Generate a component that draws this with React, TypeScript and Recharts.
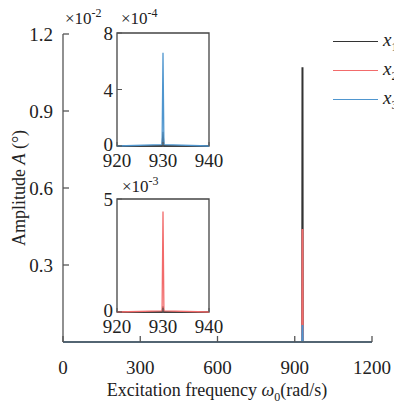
import { LineChart, Line, XAxis, YAxis, ReferenceArea } from 'recharts';

// main sweep, amplitude in 1e-2 deg
const freq = [0, 929, 930, 931, 1200];
const ampX1 = [0, 0, 1.07, 0, 0];
const ampX2 = [0, 0, 0.44, 0, 0];
const ampX3 = [0, 0, 0.066, 0, 0];

// zoomed insets around 930 rad/s
const insetFreq = [920, 929.8, 930, 930.2, 940];
const insetX3 = [0, 0.1, 6.6, 0.1, 0]; // x1e-4
const insetX1a = [0, 0, 1.0, 0, 0]; // x1e-4
const insetX2 = [0, 0.05, 4.45, 0.05, 0]; // x1e-3
const insetX1b = [0, 0, 0.25, 0, 0]; // x1e-3

const xTicks = [0, 300, 600, 900, 1200];
const yTicks = [0.3, 0.6, 0.9, 1.2];
const insetXTicks = [920, 930, 940];
const inset1YTicks = [0, 4, 8];
const inset2YTicks = [0, 5];

const SERIES = [
  { key: 'x1', label: '1', color: '#333333' },
  { key: 'x2', label: '2', color: '#f26b6b' },
  { key: 'x3', label: '3', color: '#4f96cf' },
];

const AXIS = '#555';
const FONT = '"Liberation Serif", "DejaVu Serif", serif';

const mainData = freq.map((f, i) => ({ f, x1: ampX1[i], x2: ampX2[i], x3: ampX3[i] }));
const inset1Data = insetFreq.map((f, i) => ({ f, x1: insetX1a[i], x3: insetX3[i] }));
const inset2Data = insetFreq.map((f, i) => ({ f, x1: insetX1b[i], x2: insetX2[i] }));

const MainXTick = (p: any) => (
  <g>
    <line x1={p.x} y1={p.y} x2={p.x} y2={p.y - 6} stroke={AXIS} strokeWidth={1.3} />
    <text x={p.x} y={p.y + 32} textAnchor="middle" fontSize={19} fontFamily={FONT} fill="#222">
      {p.payload.value}
    </text>
  </g>
);

const MainYTick = (p: any) => (
  <g>
    <line x1={p.x} y1={p.y} x2={p.x + 6} y2={p.y} stroke={AXIS} strokeWidth={1.3} />
    <text x={p.x - 10} y={p.y + 7} textAnchor="end" fontSize={19} fontFamily={FONT} fill="#222">
      {p.payload.value.toFixed(1)}
    </text>
  </g>
);

const InsetXTick = (p: any) => (
  <g>
    <line x1={p.x} y1={p.y} x2={p.x} y2={p.y - 4} stroke={AXIS} strokeWidth={1} />
    <text x={p.x} y={p.y + 21} textAnchor="middle" fontSize={19} fontFamily={FONT} fill="#222">
      {p.payload.value}
    </text>
  </g>
);

const InsetYTick = (p: any) => (
  <g>
    <line x1={p.x} y1={p.y} x2={p.x + 5} y2={p.y} stroke={AXIS} strokeWidth={1} />
    <text x={p.x - 4} y={p.y + (p.payload.value === 0 ? 5 : 7)} textAnchor="end" fontSize={19} fontFamily={FONT} fill="#222">
      {p.payload.value}
    </text>
  </g>
);

const Exp = ({ left, top, pow }: { left: number; top: number; pow: string }) => (
  <div style={{ position: 'absolute', left, top, fontFamily: FONT, fontSize: 17, color: '#222', lineHeight: 1 }}>
    ×10<sup style={{ fontSize: 12, verticalAlign: 'top', position: 'relative', top: -3 }}>{pow}</sup>
  </div>
);

function Inset({ data, yTicks, yMax, top, lines }: any) {
  return (
    <div style={{ position: 'absolute', left: 77, top }}>
      <LineChart width={162} height={161} data={data} margin={{ top: 20, right: 30, left: 10, bottom: 0 }}>
        <XAxis
          dataKey="f"
          type="number"
          domain={[920, 940]}
          ticks={insetXTicks}
          axisLine={false}
          tickLine={false}
          tickSize={0}
          tickMargin={0}
          height={28}
          tick={<InsetXTick />}
          interval={0}
        />
        <YAxis
          type="number"
          domain={[0, yMax]}
          ticks={yTicks}
          axisLine={false}
          tickLine={false}
          tickSize={0}
          tickMargin={0}
          width={30}
          tick={<InsetYTick />}
          interval={0}
        />
        <ReferenceArea x1={920} x2={940} y1={0} y2={yMax} fill="none" stroke="#444" strokeWidth={1.3} />
        {lines.map((s: any) => (
          <Line key={s.key} dataKey={s.key} stroke={s.color} strokeWidth={1.3} dot={false} isAnimationActive={false} />
        ))}
      </LineChart>
    </div>
  );
}

export default function App() {
  return (
    <div style={{ position: 'absolute', left: 0, top: 0, width: 394, height: 406, overflow: 'hidden', background: '#fff' }}>
      <LineChart width={394} height={406} data={mainData} margin={{ top: 34, right: 22, left: 23, bottom: 34 }}>
        <XAxis
          dataKey="f"
          type="number"
          domain={[0, 1200]}
          ticks={xTicks}
          interval={0}
          stroke={AXIS}
          strokeWidth={1.3}
          tickLine={false}
          tickSize={0}
          tickMargin={0}
          height={30}
          tick={<MainXTick />}
        />
        <YAxis
          type="number"
          domain={[0, 1.2]}
          ticks={yTicks}
          interval={0}
          stroke={AXIS}
          strokeWidth={1.3}
          tickLine={false}
          tickSize={0}
          tickMargin={0}
          width={40}
          tick={<MainYTick />}
        />
        {SERIES.map((s) => (
          <Line key={s.key} dataKey={s.key} stroke={s.color} strokeWidth={2} dot={false} isAnimationActive={false} />
        ))}
      </LineChart>

      <Exp left={65} top={10} pow="-2" />

      <Inset data={inset1Data} yTicks={inset1YTicks} yMax={8} top={13} lines={[SERIES[0], SERIES[2]]} />
      <Exp left={121} top={10} pow="-4" />

      <Inset data={inset2Data} yTicks={inset2YTicks} yMax={5} top={179} lines={[SERIES[0], SERIES[1]]} />
      <Exp left={122} top={178} pow="-3" />

      {SERIES.map((s, i) => (
        <div key={s.key} style={{ position: 'absolute', left: 333, top: 29 + i * 29, display: 'flex', alignItems: 'center', whiteSpace: 'nowrap' }}>
          <div style={{ width: 45, height: 0, borderTop: `1.5px solid ${s.color}` }} />
          <span style={{ marginLeft: 5, fontFamily: FONT, fontSize: 19, fontStyle: 'italic', color: '#222' }}>
            x<sub style={{ fontSize: 12, fontStyle: 'normal' }}>{s.label}</sub>
          </span>
        </div>
      ))}

      <div
        style={{
          position: 'absolute',
          left: 19,
          top: 188,
          transform: 'translate(-50%, -50%) rotate(-90deg)',
          fontFamily: FONT,
          fontSize: 18,
          color: '#222',
          whiteSpace: 'nowrap',
        }}
      >
        Amplitude <i>A</i> (°)
      </div>

      <div
        style={{
          position: 'absolute',
          left: 0,
          width: 434,
          top: 380,
          textAlign: 'center',
          fontFamily: FONT,
          fontSize: 18,
          color: '#222',
          whiteSpace: 'nowrap',
        }}
      >
        Excitation frequency <i>ω</i>
        <sub style={{ fontSize: 12 }}>0</sub>(rad/s)
      </div>
    </div>
  );
}
